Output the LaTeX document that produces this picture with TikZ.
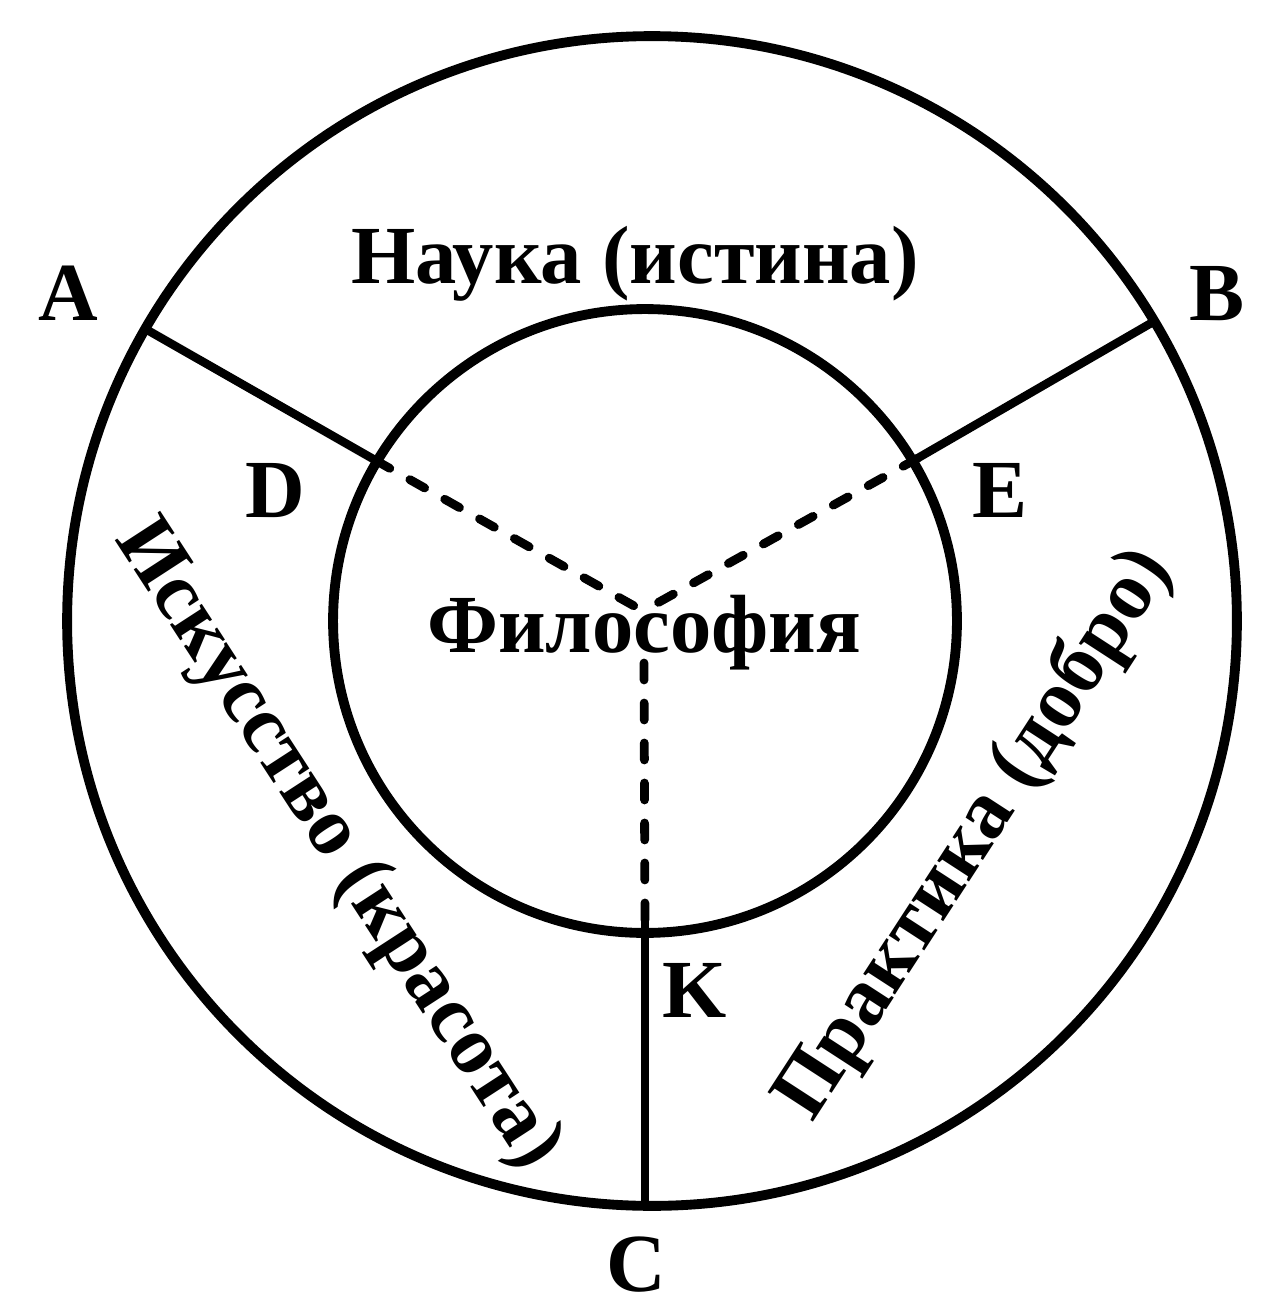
\documentclass[tikz,border=0pt]{standalone}
\usepackage{fontspec}
\setmainfont{Liberation Serif}
\begin{document}
\begin{tikzpicture}[x=0.02cm,y=-0.02cm,
  lbl/.style={font=\bfseries\fontsize{47}{50}\selectfont, inner sep=0pt},
  ring/.style={line width=5.6pt},
  spoke/.style={line width=4.8pt},
  dashspoke/.style={line width=5pt, line cap=round, dash pattern=on 0.34cm off 0.46cm}]
\useasboundingbox (0,0) rectangle (1260,1307);
\coordinate (Oo) at (652,621);
\coordinate (Oi) at (645,621);
\draw[ring] (Oo) circle[radius=11.7cm];
\draw[ring] (Oi) circle[radius=6.24cm];
\coordinate (A) at (142,327);
\coordinate (B) at (1153,322);
\coordinate (C) at (645,1207);
\coordinate (D) at (375,460);
\coordinate (E) at (918,458);
\coordinate (K) at (645,933);
\coordinate (Kt) at (645,913);
\coordinate (M) at (643,611);
\coordinate (Mv) at (644,663);
\draw[spoke] (A) -- (D);
\draw[spoke] (B) -- (E);
\draw[spoke] (Kt) -- (C);
\draw[dashspoke] (D) -- (M);
\draw[dashspoke] (E) -- (M);
\draw[dashspoke] (Mv) -- (K);
\node[lbl, anchor=base] (lA) at (68,320) {A};
\node[lbl, anchor=base] (lB) at (1217,320) {B};
\node[lbl, anchor=base] (lC) at (636,1291) {C};
\node[lbl, anchor=base] (lD) at (275,517) {D};
\node[lbl, anchor=base] (lE) at (1000,517) {E};
\node[lbl, anchor=base] (lK) at (695,1017) {K};
\node[lbl, anchor=base] (nauka) at (635,284) {Наука (истина)};
\node[lbl, anchor=base] (filo) at (644,652) {Философия};
\node[lbl, rotate=-57] (iskus) at (337,845) {Искусство (красота)};
\node[lbl, rotate=57] (prakt) at (975,835) {Практика (добро)};
\end{tikzpicture}
\end{document}
